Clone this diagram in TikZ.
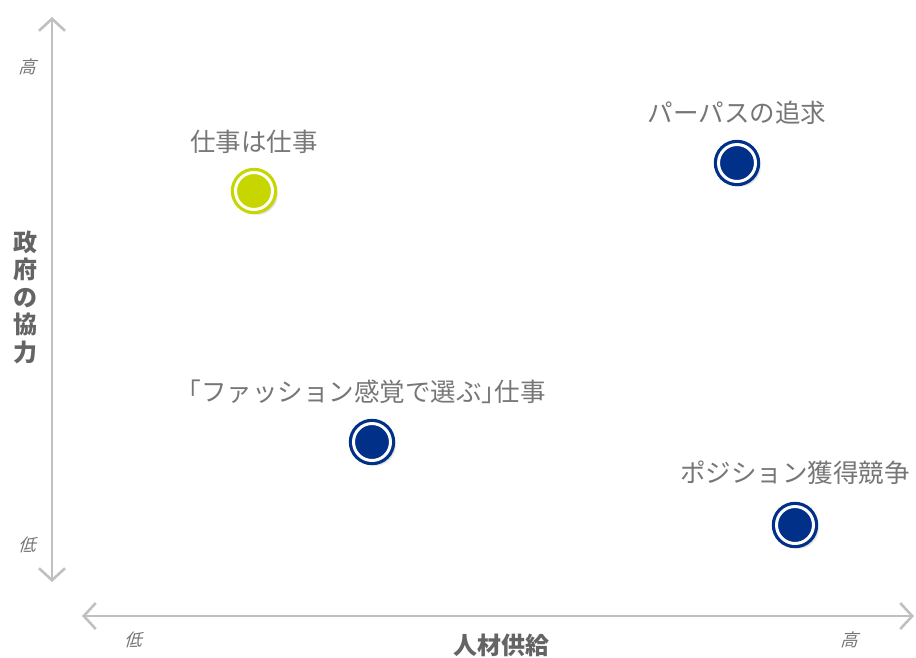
\documentclass[tikz,border=0pt]{standalone}
\usepackage{fontspec}
\setmainfont{Noto Sans CJK JP}
\newfontfamily\jpital[FakeSlant=0.3]{Noto Sans CJK JP}
\usetikzlibrary{arrows.meta,shadows.blur}
\definecolor{axisgray}{RGB}{192,192,192}
\definecolor{txtgray}{RGB}{118,118,118}
\definecolor{lblgray}{RGB}{100,100,100}
\definecolor{dotgreen}{RGB}{200,214,0}
\definecolor{dotblue}{RGB}{0,48,135}
\tikzset{
  axisline/.style={draw=axisgray, line width=2.6pt,
    {Straight Barb[length=12pt,width=26pt,line width=2.6pt]}-{Straight Barb[length=12pt,width=26pt,line width=2.6pt]}},
  dot/.style={circle, inner sep=0pt, minimum size=37pt, fill=#1, draw=#1,
    line width=3.2pt, double=white, double distance=3pt,
    blur shadow={shadow xshift=3pt, shadow yshift=-3pt, shadow blur steps=6, shadow blur radius=3pt, shadow opacity=50}},
  caption/.style={text=txtgray, font=\fontsize{25.5}{28}\selectfont, inner sep=0pt},
  ticklbl/.style={text=txtgray, font=\jpital\fontsize{17.5}{18}\selectfont, inner sep=0pt},
  axislbl/.style={text=lblgray, font=\bfseries\fontsize{24}{27.5}\selectfont, inner sep=0pt, align=center}
}
\begin{document}
\begin{tikzpicture}[x=1pt,y=-1pt]
\useasboundingbox (0,0) rectangle (916,657);
% axes
\coordinate (vtop) at (52,17);
\coordinate (vbot) at (52,582);
\coordinate (hleft) at (82,616);
\coordinate (hright) at (914,616);
\draw[axisline] (vbot) -- (vtop);
\draw[axisline] (hleft) -- (hright);
% tick labels
\node[ticklbl] (yhigh) at (27,67) {高};
\node[ticklbl] (ylow) at (27,545) {低};
\node[ticklbl] (xlow) at (133,640) {低};
\node[ticklbl] (xhigh) at (849,640) {高};
% axis labels
\node[axislbl] (xlabel) at (501,645) {人材供給};
\node[axislbl] (ylabel) at (25,297) {政\\府\\の\\協\\力};
% dots
\node[dot=dotgreen] (d1) at (254,191) {};
\node[dot=dotblue] (d2) at (737,163) {};
\node[dot=dotblue] (d3) at (372,442) {};
\node[dot=dotblue] (d4) at (795,525) {};
% captions
\node[caption] (c1) at (254,142) {仕事は仕事};
\node[caption] (c2) at (737,113) {パーパスの追求};
\node[caption] (c3) at (367,392) {｢ファッション感覚で選ぶ｣仕事};
\node[caption] (c4) at (795,473) {ポジション獲得競争};
\end{tikzpicture}
\end{document}
